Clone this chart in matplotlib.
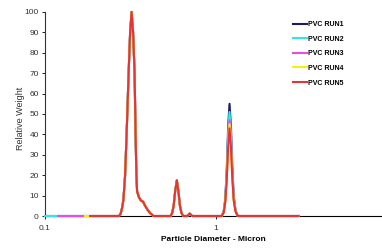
import numpy as np
import matplotlib
matplotlib.use("Agg")
import matplotlib.pyplot as plt
from matplotlib.ticker import FixedLocator, NullLocator

plt.rcParams["font.family"] = ["Liberation Sans", "DejaVu Sans"]

# particle diameter (micron) shared by all runs
diameter = [0.100, 0.1196, 0.1714, 0.1833,
            0.2708, 0.2764, 0.2821, 0.2871, 0.2937, 0.2997, 0.3079, 0.3142,
            0.3205, 0.3270, 0.3337, 0.3382, 0.3419, 0.3451, 0.3545, 0.3642,
            0.3741, 0.3844, 0.3976, 0.4111, 0.4309,
            0.5419, 0.5530, 0.5643, 0.5757, 0.5891, 0.6018, 0.6141, 0.6267, 0.6412,
            0.6767, 0.6998, 0.7237,
            1.0770, 1.1063, 1.1288, 1.1518, 1.1752, 1.1961, 1.2189, 1.2405,
            1.2651, 1.2964, 1.3357,
            3.03]

nan = np.nan
main_peak = [0, 1, 4, 8, 20, 40, 70, 90, 100, 90, 70, 40, 20, 12, 9, 7.5, 7, 5, 3, 1.4, 0]
mid_peak = [0, 1.5, 5, 12, 17.5, 12, 5, 1.5, 0, 0, 1.2, 0]

run1 = [0, 0, 0, 0] + main_peak + mid_peak + [0, 2.2, 8, 22, 44, 55, 44, 25, 10, 2.8, 0] + [0]
run2 = [0, 0, 0, 0] + main_peak + mid_peak + [0, 2.0, 7.7, 20.4, 40.8, 51, 40.8, 23, 9.2, 2.6, 0] + [0]
run3 = [nan, 0, 0, 0] + main_peak + mid_peak + [0, 1.9, 7.0, 19, 37.6, 47, 37.6, 21, 8.5, 2.4, 0] + [0]
run4 = [nan, nan, 0, 0] + main_peak + mid_peak + [0, 1.8, 6.8, 18, 36, 45, 36, 20, 8.1, 2.3, 0] + [0]
run5 = [nan, nan, nan, 0] + main_peak + mid_peak + [0, 1.7, 6.5, 17, 34.4, 43, 34.4, 19.4, 7.7, 2.2, 0] + [0]

runs = [run1, run2, run3, run4, run5]
labels = ["PVC RUN1", "PVC RUN2", "PVC RUN3", "PVC RUN4", "PVC RUN5"]
colors = ["#1a1a6e", "#33e6e6", "#e64de6", "#f2f20d", "#e63333"]

fig = plt.figure(figsize=(3.82, 2.49), dpi=100)
ax = fig.add_axes([45 / 382, 33 / 249, 337 / 382, 204 / 249])

for y, lab, c in zip(runs, labels, colors):
    ax.plot(diameter, y, color=c, lw=1.5, label=lab, clip_on=False, zorder=3,
            solid_joinstyle="round")

ax.set_xscale("log")
ax.set_xlim(0.1, 9.3)
ax.set_ylim(0, 100)
ax.xaxis.set_major_locator(FixedLocator([0.1, 1]))
ax.xaxis.set_minor_locator(NullLocator())
ax.set_xticklabels(["0.1", "1"])
ax.set_yticks(range(0, 101, 10))
ax.tick_params(axis="both", labelsize=6, length=2.5, width=0.6, pad=2,
               labelcolor="#333333")
ax.tick_params(axis="x", pad=4)

ax.spines["top"].set_visible(False)
ax.spines["right"].set_visible(False)
ax.spines["left"].set_color("#333333")
ax.spines["left"].set_linewidth(0.8)
ax.spines["bottom"].set_linewidth(0.8)

ax.set_xlabel("Particle Diameter - Micron", fontsize=6, fontweight="bold", labelpad=3)
ax.set_ylabel("Relative Weight", fontsize=6.5, color="#333333")
ax.yaxis.set_label_coords(-0.058, 0.48)

ax.legend(loc="upper left", bbox_to_anchor=(293 / 382, 1 - 21 / 249),
          bbox_transform=fig.transFigure, frameon=False,
          prop={"size": 5, "weight": "bold"}, handlelength=2.0,
          handletextpad=0.2, labelspacing=1.1, borderpad=0, borderaxespad=0)

fig.savefig("out.png", dpi=100)
